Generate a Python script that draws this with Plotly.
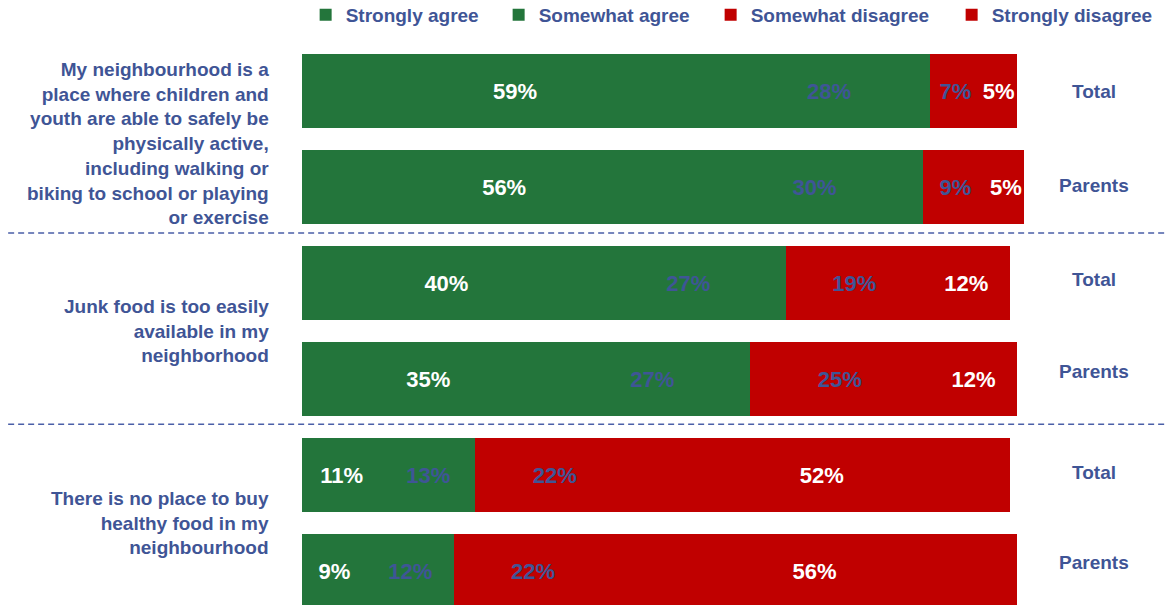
import plotly.graph_objects as go

# Survey statements (one per pair of rows)
statements = [
    "My neighbourhood is a<br>place where children and<br>youth are able to safely be<br>physically active,<br>including walking or<br>biking to school or playing<br>or exercise",
    "Junk food is too easily<br>available in my<br>neighborhood",
    "There is no place to buy<br>healthy food in my<br>neighbourhood",
]
respondents = ["Total", "Parents", "Total", "Parents", "Total", "Parents"]

# Percent of respondents per answer, rows top to bottom
strongly_agree = [59, 56, 40, 35, 11, 9]
somewhat_agree = [28, 30, 27, 27, 13, 12]
somewhat_disagree = [7, 9, 19, 25, 22, 22]
strongly_disagree = [5, 5, 12, 12, 52, 56]

GREEN = "#23753B"
RED = "#C00000"
BLUE = "#3F5596"
WHITE = "#FFFFFF"
FONT = "Liberation Sans, Arial, sans-serif"

rows = list(range(len(respondents)))

# name, values, bar colour, label colour, legend entry width
series = [
    ("Strongly agree", strongly_agree, GREEN, WHITE, 144),
    ("Somewhat agree", somewhat_agree, GREEN, BLUE, 163),
    ("Somewhat disagree", somewhat_disagree, RED, BLUE, 192),
    ("Strongly disagree", strongly_disagree, RED, WHITE, 162),
]

fig = go.Figure()
for name, vals, color, tcolor, lw in series:
    fig.add_trace(go.Bar(
        name=name,
        y=rows,
        x=vals,
        orientation="h",
        marker=dict(color=color, line=dict(width=0)),
        text=[f"{v}%" for v in vals],
        textposition="inside",
        insidetextanchor="middle",
        textangle=0,
        textfont=dict(family=FONT, size=22, color=tcolor, weight="bold"),
        legendwidth=lw,
        hoverinfo="skip",
    ))

annotations = []
# Statement labels on the left, centred on each pair of rows
label_shift = [-4, 0, 0]
for i, s in enumerate(statements):
    annotations.append(dict(
        text=s, xref="paper", yref="y", x=-0.043, y=2 * i + 0.5,
        yshift=label_shift[i],
        xanchor="right", yanchor="middle", align="right", showarrow=False,
        font=dict(family=FONT, size=19, color=BLUE, weight="bold"),
    ))
# Respondent group labels on the right
group_shift = [0, 2, 4, 8, 3, 9]
for r, lab in zip(rows, respondents):
    annotations.append(dict(
        text=lab, xref="paper", yref="y", x=1.097, y=r,
        yshift=group_shift[r],
        xanchor="center", yanchor="middle", showarrow=False,
        font=dict(family=FONT, size=19, color=BLUE, weight="bold"),
    ))

# Dashed separators between statements
shapes = []
for yv in (1.48, 3.47):
    shapes.append(dict(
        type="line", xref="paper", yref="y", x0=-0.407, x1=1.2, y0=yv, y1=yv,
        line=dict(color="#4A5FA8", width=1.5, dash="6px,4px"),
    ))

fig.update_layout(
    width=1166, height=605,
    barmode="stack",
    bargap=0.23,
    margin=dict(l=302, r=142, t=43, b=0, pad=0, autoexpand=False),
    paper_bgcolor="white", plot_bgcolor="white",
    xaxis=dict(range=[0, 100], visible=False, fixedrange=True),
    yaxis=dict(range=[5.354, -0.5], visible=False, fixedrange=True),
    showlegend=True,
    legend=dict(
        orientation="h", x=-0.0005, xanchor="left", y=1.084, yanchor="top",
        indentation=4,
        font=dict(family=FONT, size=19, color=BLUE, weight="bold"),
        itemwidth=30, traceorder="normal", bgcolor="rgba(0,0,0,0)",
    ),
    uniformtext=dict(minsize=22, mode="show"),
    annotations=annotations,
    shapes=shapes,
)

fig.write_html("out.html")
